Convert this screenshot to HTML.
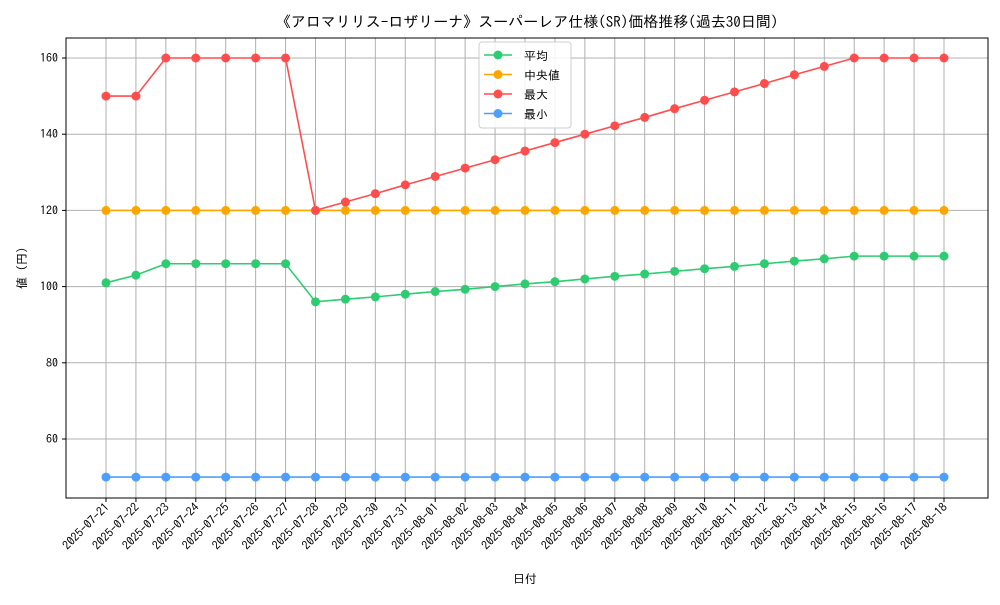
<!DOCTYPE html>
<html><head><meta charset="utf-8"><style>
body{margin:0;background:#fff}
svg text{font-family:"IPAGothic","Noto Sans CJK JP",sans-serif;fill:#000}
</style></head><body>
<svg id="c" width="1000" height="600"></svg>
<script>
const dates=["2025-07-21","2025-07-22","2025-07-23","2025-07-24","2025-07-25","2025-07-26","2025-07-27","2025-07-28","2025-07-29","2025-07-30","2025-07-31","2025-08-01","2025-08-02","2025-08-03","2025-08-04","2025-08-05","2025-08-06","2025-08-07","2025-08-08","2025-08-09","2025-08-10","2025-08-11","2025-08-12","2025-08-13","2025-08-14","2025-08-15","2025-08-16","2025-08-17","2025-08-18"];
const meanVals=[101,103,106,106,106,106,106,96,96.7,97.3,98,98.7,99.3,100,100.7,101.3,102,102.7,103.3,104,104.7,105.3,106,106.7,107.3,108,108,108,108];
const medianVals=[120,120,120,120,120,120,120,120,120,120,120,120,120,120,120,120,120,120,120,120,120,120,120,120,120,120,120,120,120];
const maxVals=[150,150,160,160,160,160,160,120,122.2,124.4,126.7,128.9,131.1,133.3,135.6,137.8,140,142.2,144.4,146.7,148.9,151.1,153.3,155.6,157.8,160,160,160,160];
const minVals=[50,50,50,50,50,50,50,50,50,50,50,50,50,50,50,50,50,50,50,50,50,50,50,50,50,50,50,50,50];
const yTicks=[60,80,100,120,140,160];
const series=[["平均",meanVals,"#2ecc71","mean"],["中央値",medianVals,"#ffa500","median"],["最大",maxVals,"#ff4d4d","max"],["最小",minVals,"#4d9fff","min"]];
const NS="http://www.w3.org/2000/svg",svg=document.getElementById('c');
const L=66,R=988,T=38,B=498;
const x=i=>106+i*(944-106)/(dates.length-1);
const y=v=>58+(160-v)*3.81;
function el(t,a,p){const e=document.createElementNS(NS,t);for(const k in a)e.setAttribute(k,a[k]);(p||svg).appendChild(e);return e;}
dates.forEach((d,i)=>{const g=el('line',{x1:x(i),x2:x(i),y1:T,y2:B,stroke:'#b0b0b0','stroke-width':1});

el('line',{x1:x(i),x2:x(i),y1:B,y2:B+4,stroke:'#000'});
const t=el('text',{x:x(i)+4,y:B+10,'font-size':12,'text-anchor':'end',transform:`rotate(-45 ${x(i)+4} ${B+10})`});t.textContent=d;
});
yTicks.forEach(v=>{const g=el('line',{x1:L,x2:R,y1:y(v),y2:y(v),stroke:'#b0b0b0','stroke-width':1});

el('line',{x1:L-4,x2:L,y1:y(v),y2:y(v),stroke:'#000'});
const t=el('text',{x:L-8,y:y(v)+4,'font-size':12,'text-anchor':'end'});t.textContent=v;
});
series.forEach(s=>{const g=el('g',{});
el('polyline',{points:s[1].map((v,i)=>x(i)+','+y(v)).join(' '),fill:'none',stroke:s[2],'stroke-width':1.6},g);
s[1].forEach((v,i)=>{const c=el('circle',{cx:x(i),cy:y(v),r:4.5,fill:s[2]},g);});});
const fr=el('rect',{x:L,y:T,width:R-L,height:B-T,fill:'none',stroke:'#000','stroke-width':1});

const lg=el('g',{});
el('rect',{x:479,y:42,width:92,height:86,rx:3,fill:'#fff','fill-opacity':0.85,stroke:'#ccc'},lg);
series.forEach((s,i)=>{const yy=55+i*19.5;el('line',{x1:484,x2:512,y1:yy,y2:yy,stroke:s[2],'stroke-width':1.6},lg);
el('circle',{cx:498,cy:yy,r:4.5,fill:s[2]},lg);const t=el('text',{x:524,y:yy+5,'font-size':12},lg);t.textContent=s[0];
});
let t=el('text',{x:527,y:27,'font-size':15,'text-anchor':'middle'});t.textContent='《アロマリリス-ロザリーナ》スーパーレア仕様(SR)価格推移(過去30日間)';

t=el('text',{x:525,y:583,'font-size':12,'text-anchor':'middle'});t.textContent='日付';

t=el('text',{x:26,y:268,'font-size':12,'text-anchor':'middle',transform:'rotate(-90 26 268)'});t.textContent='値 (円)';

</script></body></html>
